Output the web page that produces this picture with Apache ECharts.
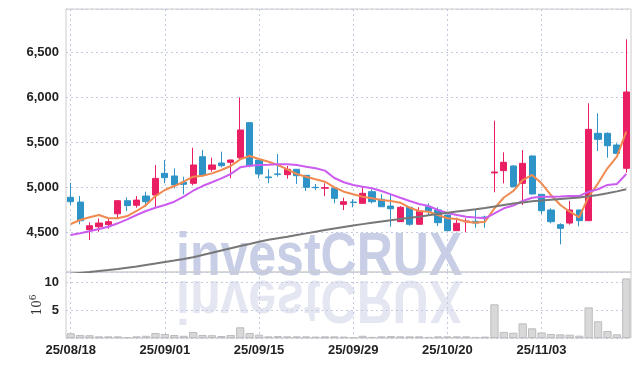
<!DOCTYPE html>
<html><head><meta charset="utf-8">
<script src="https://cdn.jsdelivr.net/npm/echarts@6/dist/echarts.min.js"></script>
<style>html,body{margin:0;padding:0;background:#fff}#c{width:639px;height:366px}</style>
</head><body><div id="c"></div>
<script>
const dates = ['25/08/18','25/08/19','25/08/20','25/08/21','25/08/22','25/08/25','25/08/26','25/08/27','25/08/28','25/08/29',
'25/09/01','25/09/02','25/09/03','25/09/04','25/09/05','25/09/08','25/09/09','25/09/10','25/09/11','25/09/12',
'25/09/15','25/09/16','25/09/17','25/09/18','25/09/19','25/09/22','25/09/23','25/09/24','25/09/25','25/09/26',
'25/09/29','25/09/30','25/10/01','25/10/02','25/10/10','25/10/13','25/10/14','25/10/15','25/10/16','25/10/17',
'25/10/20','25/10/21','25/10/22','25/10/23','25/10/24','25/10/27','25/10/28','25/10/29','25/10/30','25/10/31',
'25/11/03','25/11/04','25/11/05','25/11/06','25/11/07','25/11/10','25/11/11','25/11/12','25/11/13','25/11/14'];
const opens  = [4889,4836,4529,4562,4585,4706,4851,4800,4903,4914, 5155,5126,5056,5044,5340,5200,5270,5278,5329,5718,
                5303,5115,5148,5140,5200,5133,5000,4990,4989,4811, 4836,4822,4951,4867,4792,4618,4778,4589,4784,4748,
                4692,4518,4618,4622,4670,5160,5185,5237,5044,5348, 4922,4748,4585,4603,4748,4629,5600,5600,5470,5211];
const closes = [4840,4629,4573,4603,4618,4851,4796,4858,4840,5099, 5107,5026,5033,5248,5137,5248,5240,5303,5637,5237,
                5148,5107,5144,5200,5129,5000,4996,4996,4878,4840, 4830,4933,4840,4784,4762,4778,4589,4736,4736,4607,
                4518,4600,4625,4603,4660,5170,5278,5007,5266,4926, 4740,4618,4544,4748,4629,5644,5533,5462,5377,6059];
const lows   = [4803,4589,4414,4506,4540,4656,4736,4773,4784,4778, 5044,4989,4922,5022,5120,5173,5222,5100,5303,5222,
                5100,5044,5118,5096,5037,4959,4970,4903,4822,4747, 4778,4822,4822,4784,4562,4618,4573,4589,4692,4570,
                4510,4518,4500,4551,4551,4945,5044,5000,4803,4920, 4703,4600,4366,4585,4566,4629,5403,5329,5377,5162];
const highs  = [5051,4903,4611,4655,4655,4855,4889,4903,4951,5248, 5303,5211,5118,5440,5414,5329,5396,5310,6000,5725,
                5303,5200,5370,5237,5200,5133,5037,5044,4989,4884, 4867,4996,4978,4922,4914,4790,4778,4778,4822,4778,
                4692,4663,4655,4756,4685,5740,5389,5245,5414,5355, 4922,4767,4600,4848,4748,5933,5822,5610,5489,6644];
const ma5    = [4592,4637,4667,4692,4656,4656,4681,4737,4803,4903, 4970,5014,5062,5118,5129,5155,5192,5237,5311,5348,
                5314,5284,5248,5200,5148,5118,5089,5062,5000,4951, 4922,4896,4878,4859,4848,4829,4773,4737,4729,4692,
                4656,4648,4618,4607,4618,4767,4887,4959,5081,5137, 5044,4914,4803,4729,4667,4896,5044,5211,5340,5618];
const ma20   = [4470,4489,4511,4537,4562,4600,4644,4692,4737,4773, 4803,4840,4896,4962,5014,5056,5100,5148,5222,5240,
                5248,5251,5255,5255,5248,5229,5211,5185,5103,5056, 5026,5007,4989,4959,4922,4884,4848,4814,4792,4748,
                4714,4692,4674,4664,4656,4711,4767,4798,4848,4884, 4896,4896,4898,4903,4903,4951,4978,5026,5037,5148];
const maLong = [4039,4049,4059,4070,4081,4093,4107,4121,4137,4153, 4170,4186,4203,4223,4248,4272,4298,4323,4348,4370,
                4394,4417,4433,4451,4470,4488,4507,4526,4543,4560, 4576,4591,4606,4620,4634,4648,4661,4674,4689,4703,
                4717,4730,4743,4756,4770,4786,4804,4819,4832,4844, 4854,4862,4870,4878,4886,4900,4914,4933,4955,4978];
const volumes = [0.84,0.54,0.5,0.3,0.3,0.3,0.15,0.3,0.4,0.9, 0.72,0.54,0.4,1.08,0.54,0.5,0.36,0.54,1.92,0.9,
                 0.6,0.3,0.35,0.3,0.3,0.3,0.25,0.3,0.3,0.25, 0.15,0.4,0.2,0.3,0.35,0.3,0.3,0.3,0.2,0.3,
                 0.3,0.3,0.3,0.2,0.25,6.05,1.1,0.95,2.63,1.74, 1.0,0.72,0.66,0.6,0.42,5.5,3.0,1.26,0.66,10.7];

const RED = '#e91e63', BLUE = '#2e93c6';
const FONT = '"Liberation Sans", Arial, sans-serif';
const gridLine = {show: true, lineStyle: {color: '#c3c9de', type: [2, 3], width: 1}};
const candleData = opens.map((o, i) => [o, closes[i], lows[i], highs[i]]);
const labelStyle = {color: '#222', fontFamily: FONT, fontSize: 13, fontWeight: 'bold'};

const chart = echarts.init(document.getElementById('c'));
chart.setOption({
  animation: false,
  backgroundColor: '#ffffff',
  graphic: [
    {type: 'text', x: 176, y: 258, scaleX: 0.82, z: -10, silent: true,
     style: {text: 'investCRUX', font: 'bold 61px ' + FONT, fill: '#c7cee5', align: 'left', verticalAlign: 'middle', textAlign: 'left', textVerticalAlign: 'middle'}},
    {type: 'text', x: 176, y: 298, scaleX: 0.82, scaleY: -1, z: -10, silent: true,
     style: {text: 'investCRUX', font: 'bold 61px ' + FONT, fill: '#e4e7f1', align: 'left', verticalAlign: 'middle', textAlign: 'left', textVerticalAlign: 'middle'}}
  ],
  grid: [
    {left: 66, right: 8, top: 9, height: 263, show: true, borderColor: '#cccccc', borderWidth: 1},
    {left: 66, right: 8, top: 272, height: 66, show: true, borderColor: '#cccccc', borderWidth: 1}
  ],
  xAxis: [
    {type: 'category', gridIndex: 0, data: dates, boundaryGap: true,
     axisLine: {show: false}, axisTick: {show: false}, axisLabel: {show: false},
     splitLine: Object.assign({interval: 9, alignWithLabel: true}, gridLine)},
    {type: 'category', gridIndex: 1, data: dates, boundaryGap: true,
     axisLine: {show: false}, axisTick: {show: false},
     axisLabel: Object.assign({show: true, interval: 9, margin: 6}, labelStyle),
     splitLine: Object.assign({interval: 9, alignWithLabel: true}, gridLine)}
  ],
  yAxis: [
    {type: 'value', gridIndex: 0, min: 4059, max: 6981,
     axisLine: {show: false}, axisTick: {show: false},
     axisLabel: Object.assign({margin: 7, showMinLabel: false, showMaxLabel: false,
       formatter: v => (v % 500 === 0 ? v.toLocaleString('en-US') : '')}, labelStyle),
     splitLine: gridLine},
    {type: 'value', gridIndex: 1, min: 0, max: 11.85, interval: 5,
     axisLine: {show: false}, axisTick: {show: false},
     axisLabel: Object.assign({margin: 7, showMinLabel: false, showMaxLabel: false,
       formatter: v => (v === 5 || v === 10 ? String(v) : '')}, labelStyle),
     splitLine: gridLine,
     name: '{a|10}{b|6}', nameLocation: 'middle', nameGap: 20, nameRotate: 90, nameMoveOverlap: false,
     nameTextStyle: {rich: {
       a: {fontFamily: '"DejaVu Serif", serif', fontSize: 12, color: '#333'},
       b: {fontFamily: '"DejaVu Serif", serif', fontSize: 9, color: '#333', padding: [0, 0, 8, 0]}
     }}}
  ],
  series: [
    {type: 'candlestick', xAxisIndex: 0, yAxisIndex: 0, data: candleData, barWidth: '70%', z: 3,
     itemStyle: {color: RED, color0: BLUE, borderColor: RED, borderColor0: BLUE, borderWidth: 1}},
    {type: 'line', xAxisIndex: 0, yAxisIndex: 0, data: ma5, symbol: 'none', z: 4,
     lineStyle: {color: '#f08a50', width: 2}},
    {type: 'line', xAxisIndex: 0, yAxisIndex: 0, data: ma20, symbol: 'none', z: 4,
     lineStyle: {color: '#cc5cf0', width: 2}},
    {type: 'line', xAxisIndex: 0, yAxisIndex: 0, data: maLong, symbol: 'none', z: 4,
     lineStyle: {color: '#777777', width: 2}},
    {type: 'bar', xAxisIndex: 1, yAxisIndex: 1, data: volumes, barCategoryGap: '12%',
     itemStyle: {color: '#d8d8d8', borderColor: '#bdbdbd', borderWidth: 1}}
  ]
});
</script></body></html>
